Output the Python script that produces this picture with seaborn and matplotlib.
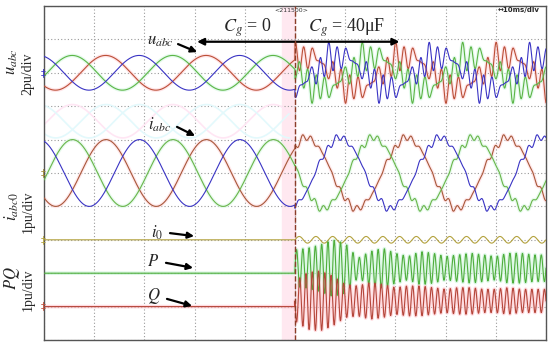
import matplotlib
matplotlib.use("Agg")
import matplotlib.pyplot as plt
import seaborn as sns
import numpy as np
import pandas as pd

# screen: 10 divisions each way, 10 ms/div, 50 Hz grid
channel_names = ["u_abc", "i_abc", "i_0", "P", "Q"]
channel_zero = [8, 5, 3, 2, 1]          # zero level of each trace (div)
trigger_div = 5                        # Cg switched from 0 to 40uF here

phase_angle = [2 * np.pi / 3, -2 * np.pi / 3, 0.0]   # a (red), b (green), c (blue)
start_angle = 0.33            # rad, phase c is just past its peak at the left edge

u_amp = [0.52, 0.50]          # before / after trigger (div)
i_amp = [1.00, 1.05]
i_shift = -0.02               # rad, current vs voltage
harm_order = [5, 11, 13]
u_harm_amp = [0.10, 0.25, 0.18]
i_harm_amp = [0.03, 0.06, 0.05]

i0_ripple = [3.0, 0.10]       # cycles/div, amplitude

# P / Q oscillation after the switch (envelope read every 0.25 div)
env_t = [5.0, 5.25, 5.5, 5.75, 6.0, 6.25, 6.5, 6.75, 7.0, 7.25, 7.5,
         7.75, 8.0, 8.25, 8.5, 8.75, 9.0, 9.25, 9.5, 9.75, 10.0]
P_env = [0.55, 0.6, 0.7, 0.85, 0.75, 0.3, 0.5, 0.6, 0.45, 0.35, 0.5,
         0.45, 0.35, 0.4, 0.45, 0.4, 0.35, 0.45, 0.45, 0.4, 0.4]
Q_env = [0.6, 0.85, 0.9, 0.75, 0.5, 0.45, 0.55, 0.5, 0.4, 0.45, 0.45,
         0.4, 0.35, 0.4, 0.4, 0.35, 0.35, 0.4, 0.35, 0.35, 0.35]
P_shift = 0.15
Q_shift = 0.17
pq_freq = 8.0                 # cycles/div

t = np.linspace(0, 10, 4001)
post = t >= trigger_div
tp = t - trigger_div
wt = np.pi * t + start_angle

rows = []
for k in range(3):
    th = wt + phase_angle[k]
    u = np.where(post, u_amp[1], u_amp[0]) * np.cos(th)
    i = np.where(post, i_amp[1], i_amp[0]) * np.cos(th + i_shift)
    for h, ua, ia in zip(harm_order, u_harm_amp, i_harm_amp):
        u += post * ua * np.cos(h * th + 0.7 * h)
        i += post * ia * np.sin(h * (th + i_shift) + 0.4 * h)
    rows.append(pd.DataFrame({"t": t, "v": u + channel_zero[0], "ch": f"u{k}"}))
    rows.append(pd.DataFrame({"t": t, "v": i + channel_zero[1], "ch": f"i{k}"}))

iz = channel_zero[2] + post * i0_ripple[1] * np.sin(2 * np.pi * i0_ripple[0] * tp)
P = channel_zero[3] + post * (P_shift + np.interp(t, env_t, P_env) * np.sin(2 * np.pi * pq_freq * tp))
Q = channel_zero[4] + post * (Q_shift - np.interp(t, env_t, Q_env) * np.sin(2 * np.pi * pq_freq * tp))
rows.append(pd.DataFrame({"t": t, "v": iz, "ch": "iz"}))
rows.append(pd.DataFrame({"t": t, "v": P, "ch": "P"}))
rows.append(pd.DataFrame({"t": t, "v": Q, "ch": "Q"}))
df = pd.concat(rows, ignore_index=True)

sns.set_style("white")
plt.rcParams["mathtext.fontset"] = "stix"
fig = plt.figure(figsize=(5.5, 3.46), dpi=100)
ax = fig.add_axes([44 / 550, 6 / 346, 502 / 550, 334 / 346])
ax.set_xlim(0, 10)
ax.set_ylim(0, 10)

ax.axvspan(4.75, 5.0, color="#ffe8f0", zorder=0)

# faint ghost pattern behind the current traces
for k, gc in zip(range(3), ["#e3f9fc", "#ffe6f4", "#e3f9fc"]):
    g = df[(df.ch == f"i{k}") & (df.t < 4.9)]
    ax.plot(g.t, (g.v - 5) * 0.5 + 6.55, color=gc, lw=1.2, zorder=1)

halo = {"u0": "#ffd3d8", "u1": "#d3f7e0", "i0": "#ffdade", "i1": "#d8f8e2",
        "P": "#c3f3d2", "Q": "#ffc4cc"}
colors = {"u0": "#bb5038", "u1": "#5cb546", "u2": "#3a34c4",
          "i0": "#a8583a", "i1": "#6ab54a", "i2": "#3a34c4",
          "iz": "#b3a23e", "P": "#4fae3c", "Q": "#b5463a"}

for ch in ["u0", "u1", "u2", "i0", "i1", "i2", "iz", "P", "Q"]:
    sub = df[df.ch == ch]
    if ch in halo:
        sns.lineplot(data=sub, x="t", y="v", color=halo[ch], lw=2.6, alpha=0.6,
                     estimator=None, sort=False, ax=ax, zorder=2)
    sns.lineplot(data=sub, x="t", y="v", color=colors[ch], lw=0.8,
                 estimator=None, sort=False, ax=ax, zorder=3)

ax.axvline(trigger_div, color="#8b3d28", ls="--", lw=1.0, zorder=4)

ax.set_xticks(np.arange(0, 11))
ax.set_yticks(np.arange(0, 11))
ax.grid(True, ls=(0, (1, 2)), color="#9a9a9a", lw=0.8)
ax.tick_params(length=0, labelbottom=False, labelleft=False)
ax.set_xlabel("")
ax.set_ylabel("")
for s in ax.spines.values():
    s.set_color("#555555")
    s.set_linewidth(1.0)

serif = "Liberation Serif"
arrow = dict(arrowstyle="-|>", color="black", lw=1.6, mutation_scale=9, shrinkA=0, shrinkB=0)

ax.annotate("", xy=(3.05, 8.93), xytext=(7.08, 8.93),
            arrowprops=dict(arrowstyle="<|-|>", color="black", lw=1.6, mutation_scale=10,
                            shrinkA=0, shrinkB=0))
ax.text(4.04, 9.36, r"$C_g$ = 0", fontsize=13, family=serif, ha="center", va="center")
ax.text(6.02, 9.36, r"$C_g$ = 40μF", fontsize=13, family=serif, ha="center", va="center")

labels = [(r"$u_{abc}$", (2.32, 8.98), (2.67, 8.86), (3.05, 8.62)),
          (r"$i_{abc}$", (2.31, 6.43), (2.65, 6.38), (3.01, 6.11)),
          (r"$i_0$", (2.25, 3.22), (2.51, 3.2), (2.99, 3.11)),
          (r"$P$", (2.18, 2.36), (2.43, 2.31), (2.97, 2.16)),
          (r"$Q$", (2.19, 1.31), (2.45, 1.23), (2.95, 1.02))]
for txt, pos, tail, head in labels:
    ax.text(pos[0], pos[1], txt, fontsize=12, ha="center", va="center")
    ax.annotate("", xy=head, xytext=tail, arrowprops=arrow)

ax.text(4.92, 9.88, "<211500>", fontsize=4.5, ha="center", va="center", color="#333333")
ax.text(9.46, 9.87, "↔10ms/div", fontsize=5, fontweight="bold", ha="center", va="center")

# ground markers on the left edge
for y, c in [(8, "#3a34c4"), (5, "#a08a3a"), (3, "#b3a23e"), (1, "#c0503c")]:
    ax.text(-0.02, y, "‡", fontsize=7, color=c, ha="center", va="center", clip_on=False)

side = [(12, 62, r"$u_{abc}$", 12), (28, 74, "2pu/div", 10),
        (12, 207, r"$i_{abc0}$", 12), (28, 212, "1pu/div", 10),
        (12, 278, r"$PQ$", 12), (28, 290, "1pu/div", 10)]
for x, y, txt, fs in side:
    fig.text(x / 550, 1 - y / 346, txt, rotation=90, fontsize=fs, family=serif,
             ha="center", va="center")

fig.savefig("out.png", dpi=100)
